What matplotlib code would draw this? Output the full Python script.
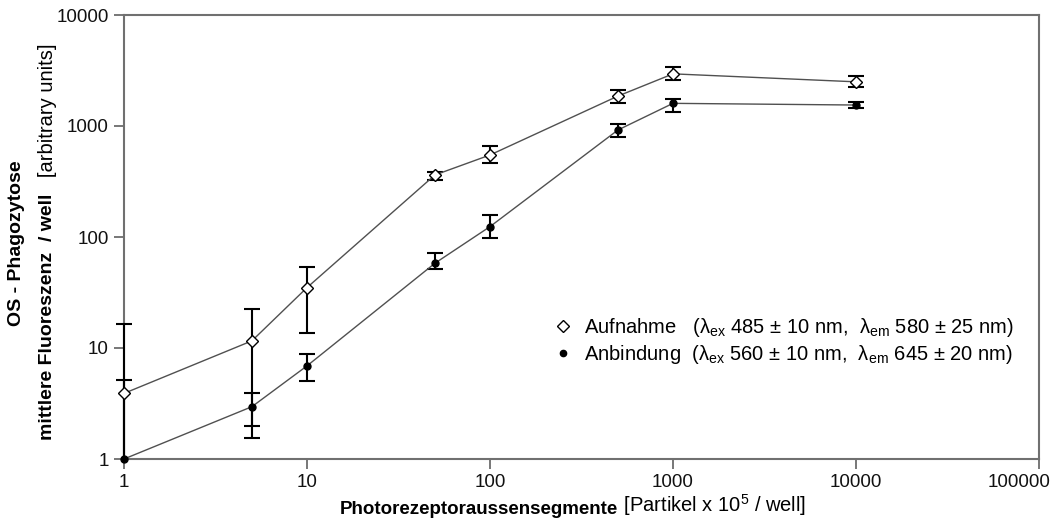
import numpy as np
import matplotlib.pyplot as plt
from matplotlib.lines import Line2D
from matplotlib.transforms import Bbox, TransformedBbox, ScaledTranslation

plt.rcParams['font.family'] = ['Liberation Sans', 'DejaVu Sans']
plt.rcParams['mathtext.default'] = 'regular'

# Partikel x 10^5 / well
partikel = np.array([1, 5, 10, 50, 100, 500, 1000, 10000])

# Aufnahme (diamond): mean, lower and upper end of the error bar
aufnahme = np.array([3.9, 11.6, 35, 362, 548, 1860, 2950, 2500])
aufnahme_lo = np.array([0.1, 1.56, 13.6, 326, 467, 1610, 2595, 2232])
aufnahme_hi = np.array([16.4, 22.3, 54, 385, 665, 2110, 3420, 2820])

# Anbindung (dot)
anbindung = np.array([1.0, 2.96, 6.9, 58, 124, 920, 1600, 1545])
anbindung_lo = np.array([0.1, 2.0, 5.0, 51, 97, 801, 1345, 1443])
anbindung_hi = np.array([5.2, 3.9, 8.8, 72, 158, 1036, 1740, 1656])

xticks = [1, 10, 100, 1000, 10000, 100000]
yticks = [1, 10, 100, 1000, 10000]

W, H = 1054, 524
fig = plt.figure(figsize=(W / 100, H / 100), dpi=100)
ax = fig.add_axes([124 / W, 1 - 459 / H, (1039 - 124) / W, (459 - 15) / H])
ax.set_xscale('log')
ax.set_yscale('log')
ax.set_xlim(1, 100000)
ax.set_ylim(1, 10000)

# error bars, clipped at top/bottom only so the bar at x=1 shows over the spine
clip = TransformedBbox(Bbox([[-0.02, 0], [1.02, 1]]), ax.transAxes)
for y, lo, hi in [(aufnahme, aufnahme_lo, aufnahme_hi),
                  (anbindung, anbindung_lo, anbindung_hi)]:
    eb = ax.errorbar(partikel, y, yerr=[y - lo, hi - y], fmt='none', ecolor='black',
                     elinewidth=1.5, capsize=5.5, capthick=1.5, zorder=4)
    for art in list(eb.lines[1]) + list(eb.lines[2]):
        art.set_clip_box(clip)

# connecting lines and markers
ax.plot(partikel, aufnahme, color='#505050', lw=1, marker='D', ms=6.5,
        mfc='white', mec='black', mew=1, clip_on=False, zorder=5)
ax.plot(partikel, anbindung, color='#505050', lw=1, marker='o', ms=5,
        mfc='black', mec='black', clip_on=False, zorder=5)

ax.minorticks_off()
ax.set_xticks(xticks, [str(t) for t in xticks])
ax.set_yticks(yticks, [str(t) for t in yticks])
ax.tick_params(direction='out', length=7, width=1.2, color='#606060',
               labelsize=13.5, labelcolor='#111111', pad=4)
for s in ax.spines.values():
    s.set_color('#707070')
    s.set_linewidth(1.5)

# last x tick label sits a bit left of its tick, as in the original
last = ax.xaxis.get_major_ticks()[-1].label1
last.set_transform(last.get_transform() + ScaledTranslation(-0.2, 0, fig.dpi_scale_trans))

# legend
handles = [
    Line2D([], [], ls='none', marker='D', ms=6.5, mfc='white', mec='black', mew=1),
    Line2D([], [], ls='none', marker='o', ms=4.5, mfc='black', mec='black'),
]
labels = [
    'Aufnahme   (λ$_{ex}$ 485 ± 10 nm,  λ$_{em}$ 580 ± 25 nm)',
    'Anbindung  (λ$_{ex}$ 560 ± 10 nm,  λ$_{em}$ 645 ± 20 nm)',
]
ax.legend(handles, labels, loc='upper left', frameon=False, fontsize=14.5,
          bbox_to_anchor=(553 / W, 1 - 316 / H), bbox_transform=fig.transFigure,
          handlelength=1.0, handletextpad=0.55, labelspacing=0.2, borderpad=0,
          borderaxespad=0)

# x label: bold part + normal part
t1 = fig.text(618 / W, 1 - 514 / H, 'Photorezeptoraussensegmente', fontsize=13.5,
              fontweight='bold', ha='right', va='baseline')
ax.annotate(' [Partikel x 10$^{5}$ / well]', xy=(1, 0), xycoords=t1,
            ha='left', va='bottom', fontsize=14.5)

# y label: two lines
fig.text(17 / W, 1 - 243 / H, 'OS - Phagozytose', fontsize=14, fontweight='bold',
         rotation=90, ha='center', va='center')
t2 = fig.text(48 / W, 1 - 440 / H, 'mittlere Fluoreszenz  / well', fontsize=14,
              fontweight='bold', rotation=90, ha='center', va='bottom')
ax.annotate('   [arbitrary units]', xy=(0.5, 1), xycoords=t2, rotation=90,
            ha='center', va='bottom', fontsize=14.5)

fig.savefig('out.png', dpi=100)
